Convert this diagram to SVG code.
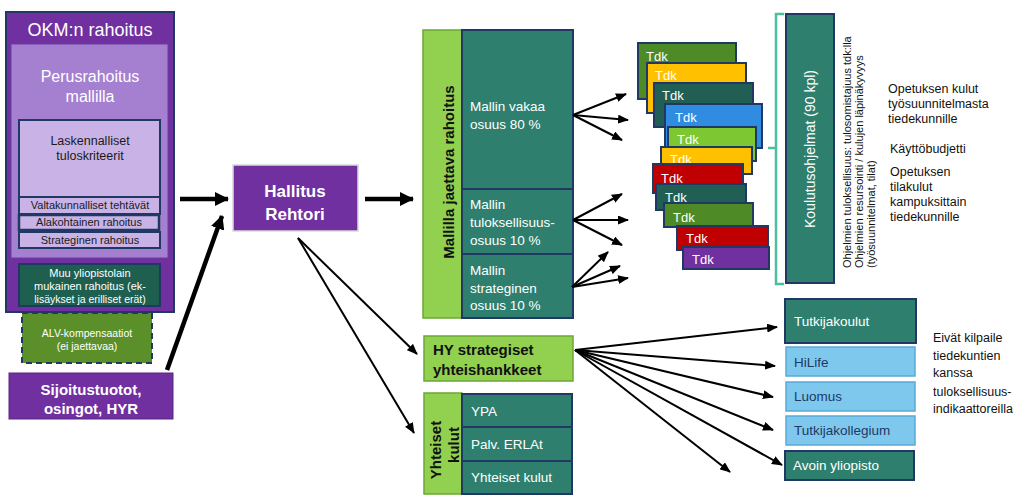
<svg xmlns="http://www.w3.org/2000/svg" width="1024" height="502" viewBox="0 0 1024 502">
<defs>
<style>
text{font-family:"Liberation Sans",Arial,sans-serif}
.w{fill:#fff}
.nv{stroke:#1f3864;stroke-width:2}
.pur{fill:#7030a0}
.teal{fill:#2e7f6e}
.dteal{fill:#215f55}
.lg{fill:#92d050;stroke:#6aa835;stroke-width:1.5}
.lb{fill:#7ec8ee;stroke:#5aa9d6;stroke-width:1.5}
.thin{stroke:#000;stroke-width:2;fill:none;marker-end:url(#ah)}
.thick{stroke:#000;stroke-width:4.5;fill:none;marker-end:url(#ahT)}
.tdk{stroke:#1f3864;stroke-width:2}
.tt{fill:#fff;font-size:13px}
</style>
<marker id="ah" markerUnits="userSpaceOnUse" markerWidth="11" markerHeight="9" refX="10" refY="4.5" orient="auto"><path d="M0,0 L11,4.5 L0,9 z" fill="#000"/></marker>
<marker id="ahT" markerUnits="userSpaceOnUse" markerWidth="14" markerHeight="14" refX="13" refY="7" orient="auto"><path d="M0,0 L14,7 L0,14 z" fill="#000"/></marker>
</defs>
<rect width="1024" height="502" fill="#fff"/>

<g id="okm">
<rect x="6" y="12" width="168" height="300" class="pur nv"/>
<text x="90" y="36" class="w" font-size="18" text-anchor="middle">OKM:n rahoitus</text>
</g>
<g id="perusrahoitus">
<rect x="11" y="44" width="157" height="214" fill="#a57fd0" stroke="#6a3fa0" stroke-width="1"/>
<text x="90" y="82" class="w" font-size="16" text-anchor="middle">Perusrahoitus</text>
<text x="90" y="102" class="w" font-size="16" text-anchor="middle">mallilla</text>
</g>
<g id="laskennalliset">
<rect x="19" y="120" width="141" height="77" fill="#c9b3e6" class="nv"/>
<text x="90" y="145" font-size="12.5" text-anchor="middle" fill="#1a1a1a">Laskennalliset</text>
<text x="90" y="160" font-size="12.5" text-anchor="middle" fill="#1a1a1a">tuloskriteerit</text>
</g>
<g id="valtakunnalliset">
<rect x="19" y="197" width="141" height="17" fill="#c9b3e6" class="nv"/>
<text x="90" y="209" font-size="11" text-anchor="middle" fill="#1a1a1a">Valtakunnalliset tehtävät</text>
</g>
<g id="alakohtainen">
<rect x="19" y="215" width="140" height="15" fill="#c9b3e6" stroke="#1f3864" stroke-width="2.5"/>
<text x="89" y="226" font-size="11" text-anchor="middle" fill="#1a1a1a">Alakohtainen rahoitus</text>
</g>
<g id="strateginen">
<rect x="19" y="232" width="141" height="16" fill="#c9b3e6" class="nv"/>
<text x="90" y="244" font-size="11" text-anchor="middle" fill="#1a1a1a">Strateginen rahoitus</text>
</g>
<g id="muu">
<rect x="19" y="264" width="141" height="42" fill="#1e5f4f" class="nv"/>
<text x="90" y="277" class="w" font-size="11" text-anchor="middle">Muu yliopistolain</text>
<text x="90" y="290" class="w" font-size="11" text-anchor="middle">mukainen rahoitus (ek-</text>
<text x="90" y="303" class="w" font-size="10.5" text-anchor="middle">lisäykset ja erilliset erät)</text>
</g>
<g id="alv">
<rect x="22" y="313" width="130" height="50" fill="#5a8f29" stroke="#1f3864" stroke-width="2" stroke-dasharray="6,4"/>
<text x="87" y="337" class="w" font-size="10.5" text-anchor="middle">ALV-kompensaatiot</text>
<text x="87" y="350" class="w" font-size="10.5" text-anchor="middle">(ei jaettavaa)</text>
</g>
<g id="sijoitus">
<rect x="9" y="373" width="164" height="46" class="pur" stroke="#5a2585" stroke-width="1"/>
<text x="91" y="395" class="w" font-size="15" font-weight="bold" text-anchor="middle">Sijoitustuotot,</text>
<text x="91" y="414" class="w" font-size="15" font-weight="bold" text-anchor="middle">osingot, HYR</text>
</g>

<g id="hallitus">
<rect x="233" y="165" width="125" height="66" class="pur" stroke="#d9d9d9" stroke-width="1.5"/>
<text x="295" y="197" class="w" font-size="17" font-weight="bold" text-anchor="middle">Hallitus</text>
<text x="295" y="220" class="w" font-size="17" font-weight="bold" text-anchor="middle">Rehtori</text>
</g>

<g id="mallilla">
<rect x="423" y="30" width="39" height="288" class="lg"/>
<text transform="translate(454,172) rotate(-90)" font-size="15" font-weight="bold" text-anchor="middle" fill="#111">Mallilla jaettava rahoitus</text>
</g>
<g id="vakaa">
<rect x="462" y="30" width="111" height="159" class="teal nv"/>
<text x="470" y="111" class="w" font-size="13.5">Mallin vakaa</text>
<text x="470" y="129" class="w" font-size="13.5">osuus 80 %</text>
</g>
<g id="tuloksellisuus">
<rect x="462" y="189" width="111" height="65" class="teal nv"/>
<text x="470" y="209" class="w" font-size="13.5">Mallin</text>
<text x="470" y="227" class="w" font-size="13.5">tuloksellisuus-</text>
<text x="470" y="245" class="w" font-size="13.5">osuus 10 %</text>
</g>
<g id="strateginen-osuus">
<rect x="462" y="254" width="111" height="64" class="teal nv"/>
<text x="470" y="275" class="w" font-size="13.5">Mallin</text>
<text x="470" y="293" class="w" font-size="13.5">strateginen</text>
<text x="470" y="310" class="w" font-size="13.5">osuus 10 %</text>
</g>

<g id="tdk-cards">
<g><rect x="638" y="43" width="98" height="56" fill="#4e8b27" class="tdk"/><text x="646" y="61" class="tt">Tdk</text></g>
<g><rect x="647" y="63" width="99" height="50" fill="#ffc000" class="tdk"/><text x="655" y="80" class="tt">Tdk</text></g>
<g><rect x="654" y="83" width="99" height="44" fill="#215f55" class="tdk"/><text x="662" y="100" class="tt">Tdk</text></g>
<g><rect x="665" y="104" width="97" height="44" fill="#2f8ce0" class="tdk"/><text x="675" y="122" class="tt">Tdk</text></g>
<g><rect x="668" y="127" width="88" height="34" fill="#7dc832" class="tdk"/><text x="677" y="144" class="tt">Tdk</text></g>
<g><rect x="661" y="147" width="91" height="27" fill="#ffc000" class="tdk"/><text x="670" y="164" class="tt">Tdk</text></g>
<g><rect x="653" y="164" width="90" height="29" fill="#c00000" class="tdk"/><text x="661" y="183" class="tt">Tdk</text></g>
<g><rect x="656" y="184" width="90" height="26" fill="#215f55" class="tdk"/><text x="665" y="202" class="tt">Tdk</text></g>
<g><rect x="664" y="203" width="89" height="24" fill="#4e8b27" class="tdk"/><text x="673" y="222" class="tt">Tdk</text></g>
<g><rect x="677" y="226" width="91" height="24" fill="#c00000" class="tdk"/><text x="686" y="243" class="tt">Tdk</text></g>
<g><rect x="683" y="247" width="86" height="22" fill="#7030a0" class="tdk"/><text x="692" y="264" class="tt">Tdk</text></g>
</g>

<g id="brace">
<path d="M784,14 L776,14 L776,148 L768,148 M776,148 L776,284 L784,284" fill="none" stroke="#4dbfa0" stroke-width="2.5"/>
</g>
<g id="koulutusohjelmat">
<rect x="786" y="14" width="48" height="269" class="teal nv"/>
<text transform="translate(815,149) rotate(-90)" class="w" font-size="14" text-anchor="middle">Koulutusohjelmat (90 kpl)</text>
</g>
<g id="ohjelmien-text" font-size="11" fill="#111">
<text transform="translate(851,268) rotate(-90)">Ohjelmien tuloksellisuus:  tulosomistajuus tdk:lla</text>
<text transform="translate(863,268) rotate(-90)">Ohjelmien resursointi / kulujen läpinäkyvyys</text>
<text transform="translate(875,268) rotate(-90)">(työsuunnitelmat, tilat)</text>
</g>
<g id="right-notes" font-size="12.5" fill="#111">
<text x="888" y="93">Opetuksen kulut</text>
<text x="888" y="108">työsuunnitelmasta</text>
<text x="888" y="123">tiedekunnille</text>
<text x="890" y="153">Käyttöbudjetti</text>
<text x="890" y="176">Opetuksen</text>
<text x="890" y="191">tilakulut</text>
<text x="890" y="206">kampuksittain</text>
<text x="890" y="221">tiedekunnille</text>
</g>

<g id="hy-strategiset">
<rect x="424" y="336" width="149" height="45" class="lg"/>
<text x="433" y="355" font-size="15" font-weight="bold" fill="#111">HY strategiset</text>
<text x="433" y="375" font-size="15" font-weight="bold" fill="#111">yhteishankkeet</text>
</g>
<g id="yhteiset-kulut">
<rect x="424" y="393" width="38" height="101" class="lg"/>
<text transform="translate(441,450) rotate(-90)" font-size="15" font-weight="bold" text-anchor="middle" fill="#111">Yhteiset</text>
<text transform="translate(459,445) rotate(-90)" font-size="15" font-weight="bold" text-anchor="middle" fill="#111">kulut</text>
</g>
<g id="ypa">
<rect x="462" y="394" width="110" height="33" class="teal nv"/>
<text x="471" y="416" class="w" font-size="13.5">YPA</text>
</g>
<g id="palv">
<rect x="462" y="427" width="110" height="34" class="teal nv"/>
<text x="471" y="449" class="w" font-size="13.5">Palv. ERLAt</text>
</g>
<g id="yhteiset">
<rect x="462" y="461" width="110" height="33" class="teal nv"/>
<text x="471" y="482" class="w" font-size="13.5">Yhteiset kulut</text>
</g>

<g id="tutkijakoulut">
<rect x="785" y="299" width="131" height="44" class="teal nv"/>
<text x="794" y="326" class="w" font-size="13.5">Tutkijakoulut</text>
</g>
<g id="hilife">
<rect x="786" y="347" width="129" height="29" class="lb"/>
<text x="794" y="367" font-size="13.5" fill="#1f3864">HiLife</text>
</g>
<g id="luomus">
<rect x="786" y="382" width="129" height="29" class="lb"/>
<text x="794" y="401" font-size="13.5" fill="#1f3864">Luomus</text>
</g>
<g id="tutkijakollegium">
<rect x="786" y="416" width="129" height="29" class="lb"/>
<text x="794" y="435" font-size="13.5" fill="#1f3864">Tutkijakollegium</text>
</g>
<g id="avoin">
<rect x="785" y="451" width="129" height="29" class="teal nv"/>
<text x="793" y="470" class="w" font-size="13.5">Avoin yliopisto</text>
</g>
<g id="eivat" font-size="12.5" fill="#111">
<text x="933" y="342">Eivät kilpaile</text>
<text x="933" y="360">tiedekuntien</text>
<text x="933" y="377">kanssa</text>
<text x="933" y="396">tuloksellisuus-</text>
<text x="933" y="413">indikaattoreilla</text>
</g>

<g id="connectors">
<line x1="180" y1="199" x2="228" y2="199" class="thick"/>
<line x1="167" y1="370" x2="222" y2="216" class="thick"/>
<line x1="365" y1="199" x2="413" y2="199" class="thick"/>
<line x1="298" y1="238" x2="417" y2="354" class="thin"/>
<line x1="298" y1="238" x2="414" y2="433" class="thin"/>
<line x1="573" y1="115" x2="626" y2="94" class="thin"/>
<line x1="573" y1="115" x2="628" y2="120" class="thin"/>
<line x1="573" y1="115" x2="622" y2="140" class="thin"/>
<line x1="573" y1="220" x2="622" y2="194" class="thin"/>
<line x1="573" y1="220" x2="628" y2="220" class="thin"/>
<line x1="573" y1="220" x2="622" y2="245" class="thin"/>
<line x1="572" y1="287" x2="608" y2="252" class="thin"/>
<line x1="572" y1="287" x2="620" y2="266" class="thin"/>
<line x1="572" y1="287" x2="628" y2="278" class="thin"/>
<line x1="575" y1="350" x2="777" y2="327" class="thin"/>
<line x1="575" y1="350" x2="775" y2="366" class="thin"/>
<line x1="575" y1="350" x2="773" y2="397" class="thin"/>
<line x1="575" y1="350" x2="773" y2="430" class="thin"/>
<line x1="575" y1="350" x2="782" y2="465" class="thin"/>
<line x1="575" y1="350" x2="730" y2="472" class="thin"/>
</g>
</svg>
